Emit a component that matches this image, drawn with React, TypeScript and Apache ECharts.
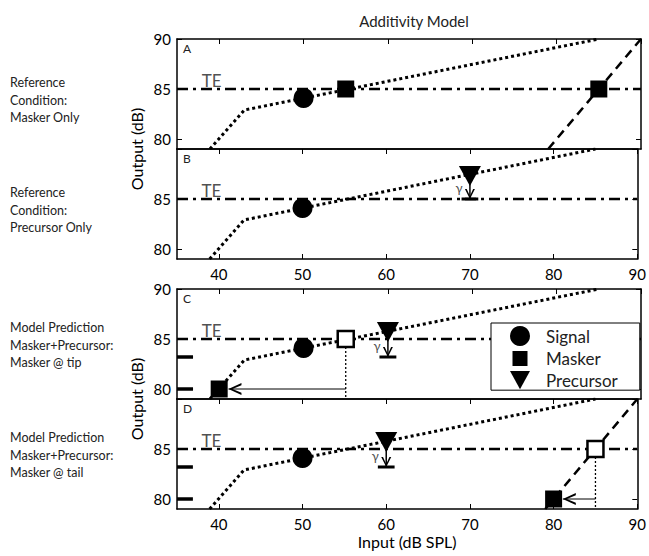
import React, { useEffect, useRef } from 'react';
import * as echarts from 'echarts';

// ---------- data ----------
const xMin = 35, xMax = 90, yMin = 79, yMax = 90;
const xTickValues = [40, 50, 60, 70, 80, 90];
const yTickValues = [80, 85, 90];
const yLabelValues = [[80, 85, 90], [80, 85], [80, 85, 90], [80, 85]];
const panelLetters = ['A', 'B', 'C', 'D'];
const rowLabels = [
  ['Reference', 'Condition:', 'Masker Only'],
  ['Reference', 'Condition:', 'Precursor Only'],
  ['Model Prediction', 'Masker+Precursor:', 'Masker @ tip'],
  ['Model Prediction', 'Masker+Precursor:', 'Masker @ tail'],
];
const ioCurve = [[38.9, 79], [43, 82.9], [85, 90]];
const maskerGrowth = [[79, 79], [90, 90]];
const teLine = [[35, 85], [90, 85]];
const teLabel = [39.1, 85.9];
const signalPoint = [50, 84.1];
const maskerA = [[55, 85], [85, 85]];
const precursorB = [70, 87.3];
const gammaShaftB = [[70, 87.3], [70, 85]];
const gammaBarB = [[69, 85], [71, 85]];
const gammaLabelB = [68.7, 86.1];
const precursorCD = [60, 85.7];
const gammaShaftCD = [[60, 85.7], [60, 83.2]];
const gammaBarCD = [[59, 83.2], [61, 83.2]];
const gammaLabelCD = [58.7, 84.3];
const thresholdMarks = [[[35, 83.2], [36.9, 83.2]], [[35, 80], [36.9, 80]]];
const predictedMaskerC = [55, 85];
const shiftedMaskerC = [40, 80];
const dropLineC = [[55, 84.2], [55, 79]];
const shiftArrowC = [[55, 80], [41.1, 80]];
const predictedMaskerD = [85, 85];
const shiftedMaskerD = [80, 80];
const dropLineD = [[85, 84.2], [85, 79]];
const shiftArrowD = [[85, 80], [81.1, 80]];

// ---------- style ----------
const FONT = 'Lato, "Open Sans", sans-serif';
const panelTops = [39, 149, 289, 399];
const PANEL_H = 110;
const TRI = 'path://M0,0 L22,0 L11,20 Z';
const LEFT_HEAD = 'path://M0,6 L13,0 L13,2.2 L4,6 L13,9.8 L13,12 Z';
const DOWN_HEAD = 'path://M5,10 L0,0 L1.8,0 L5,7 L8.2,0 L10,0 Z';
const LEGEND_SQUARE = 'path://M0,0 L0.01,0 L0,0.01 Z M20,20 L19.99,20 L20,19.99 Z M2.5,2.5 L17.5,2.5 L17.5,17.5 L2.5,17.5 Z';

function line(p: number, data: number[][], ls: any, z = 2): any {
  return {
    type: 'line', xAxisIndex: p, yAxisIndex: p, data, showSymbol: false, symbol: 'none',
    silent: true, z, lineStyle: { color: '#000', ...ls },
  };
}
function pts(p: number, name: string, data: number[][], symbol: string, size: any, itemStyle: any = {}, extra: any = {}): any {
  return {
    type: 'scatter', name, xAxisIndex: p, yAxisIndex: p, data, symbol, symbolSize: size,
    silent: true, z: 5, itemStyle: { color: '#000', opacity: 1, ...itemStyle }, ...extra,
  };
}
function txt(p: number, pos: number[], text: string, fontSize: number): any {
  return {
    type: 'scatter', xAxisIndex: p, yAxisIndex: p, data: [pos], symbolSize: 1, silent: true, z: 6,
    itemStyle: { color: 'rgba(0,0,0,0)' },
    label: { show: true, position: 'inside', formatter: text, fontSize, color: '#222', fontFamily: FONT },
  };
}

export default function App() {
  const ref = useRef<HTMLDivElement>(null);
  useEffect(() => {
    const chart = echarts.init(ref.current!, null, { renderer: 'svg' });
    const grids = panelTops.map((t) => ({ left: 177, right: 8, top: t, height: PANEL_H, containLabel: false }));
    const xAxes: any[] = [];
    const yAxes: any[] = [];
    for (let i = 0; i < 4; i++) {
      const showBottom = i === 1 || i === 3;
      xAxes.push({
        type: 'value', gridIndex: i, min: xMin, max: xMax, position: 'bottom',
        axisLine: { show: true, lineStyle: { color: '#000', width: 1.5 } },
        axisTick: { show: showBottom, inside: true, length: 5, customValues: xTickValues, lineStyle: { color: '#000', width: 1 } },
        axisLabel: { show: showBottom, customValues: xTickValues, fontSize: 15, color: '#000', fontFamily: FONT, margin: 7 },
        splitLine: { show: false },
        name: i === 3 ? 'Input (dB SPL)' : '', nameLocation: 'middle', nameGap: 24,
        nameTextStyle: { fontSize: 16, color: '#000', fontFamily: FONT },
      });
      yAxes.push({
        type: 'value', gridIndex: i, min: yMin, max: yMax, position: 'left',
        axisLine: { show: true, lineStyle: { color: '#000', width: 1.5 } },
        axisTick: { show: true, inside: true, length: 5, customValues: yTickValues, lineStyle: { color: '#000', width: 1 } },
        axisLabel: { show: true, customValues: yLabelValues[i], fontSize: 15, color: '#000', fontFamily: FONT, margin: 6 },
        splitLine: { show: false },
      });
    }
    for (let i = 0; i < 4; i++) {
      xAxes.push({
        type: 'value', gridIndex: i, min: xMin, max: xMax, position: 'top',
        axisLine: { show: true, lineStyle: { color: '#000', width: 1.5 } },
        axisTick: { show: true, inside: true, length: 5, customValues: xTickValues, lineStyle: { color: '#000', width: 1 } },
        axisLabel: { show: false }, splitLine: { show: false },
      });
      yAxes.push({
        type: 'value', gridIndex: i, min: yMin, max: yMax, position: 'right',
        axisLine: { show: true, lineStyle: { color: '#000', width: 1.5 } },
        axisTick: { show: true, inside: true, length: 5, customValues: yTickValues, lineStyle: { color: '#000', width: 1 } },
        axisLabel: { show: false }, splitLine: { show: false },
      });
    }

    const series: any[] = [];
    const dotted = { width: 3, type: [3, 3], cap: 'butt' };
    const dashed = { width: 2.5, type: [9, 6], cap: 'butt' };
    const dashDot = { width: 2.5, type: [11, 5, 3, 5], cap: 'butt' };
    for (let p = 0; p < 4; p++) {
      series.push(line(p, teLine, dashDot, 1));
      series.push(line(p, ioCurve, dotted, 2));
      series.push(txt(p, teLabel, 'TE', 17));
      series.push(pts(p, 'Signal', [signalPoint], 'circle', 20));
    }
    // A
    series.push(line(0, maskerGrowth, dashed, 2));
    series.push(pts(0, 'Masker', maskerA, 'rect', 17));
    // B
    series.push(line(1, gammaShaftB, { width: 1.5 }, 3));
    series.push(line(1, gammaBarB, { width: 3, cap: 'butt' }, 3));
    series.push(pts(1, 'Precursor', [precursorB], TRI, [22, 20]));
    series.push(pts(1, 'head', [gammaShaftB[1]], DOWN_HEAD, [10, 10], {}, { symbolOffset: [0, -5] }));
    series.push(txt(1, gammaLabelB, 'γ', 13));
    // C and D
    for (const p of [2, 3]) {
      series.push(line(p, gammaShaftCD, { width: 1.5 }, 3));
      series.push(line(p, gammaBarCD, { width: 3, cap: 'butt' }, 3));
      series.push(pts(p, 'Precursor', [precursorCD], TRI, [22, 20]));
      series.push(pts(p, 'head', [gammaShaftCD[1]], DOWN_HEAD, [10, 10], {}, { symbolOffset: [0, -5] }));
      series.push(txt(p, gammaLabelCD, 'γ', 13));
      for (const m of thresholdMarks) series.push(line(p, m, { width: 3.5, cap: 'butt' }, 3));
    }
    // C
    series.push(line(2, dropLineC, { width: 1.3, type: [2, 2] }, 3));
    series.push(line(2, shiftArrowC, { width: 1 }, 3));
    series.push(pts(2, 'head', [shiftArrowC[1]], LEFT_HEAD, [13, 12], {}, { symbolOffset: [6.5, 0] }));
    series.push(pts(2, 'Masker', [shiftedMaskerC], 'rect', 17));
    series.push(pts(2, 'Masker (predicted)', [predictedMaskerC], 'rect', 16, { color: '#fff', borderColor: '#000', borderWidth: 2.5 }));
    // D
    series.push(line(3, maskerGrowth, dashed, 2));
    series.push(line(3, dropLineD, { width: 1.3, type: [2, 2] }, 3));
    series.push(line(3, shiftArrowD, { width: 1 }, 3));
    series.push(pts(3, 'head', [shiftArrowD[1]], LEFT_HEAD, [13, 12], {}, { symbolOffset: [6.5, 0] }));
    series.push(pts(3, 'Masker', [shiftedMaskerD], 'rect', 17));
    series.push(pts(3, 'Masker (predicted)', [predictedMaskerD], 'rect', 16, { color: '#fff', borderColor: '#000', borderWidth: 2.5 }));

    const graphic: any[] = [];
    panelTops.forEach((t, i) => {
      graphic.push({ type: 'text', left: 183, top: t + 3, style: { text: panelLetters[i], fontSize: 12, fill: '#222', fontFamily: FONT } });
    });
    const rowTops = [74, 184, 319, 429];
    rowLabels.forEach((lines, i) => {
      graphic.push({
        type: 'text', left: 10, top: rowTops[i],
        style: { text: lines.join('\n'), fontSize: 12.5, lineHeight: 17.5, fill: '#222', fontFamily: FONT },
      });
    });
    [149, 399].forEach((cy) => {
      graphic.push({
        type: 'text', x: 136, y: cy, rotation: Math.PI / 2,
        style: { text: 'Output (dB)', fontSize: 16, fill: '#000', fontFamily: FONT, align: 'center', verticalAlign: 'middle' },
      });
    });

    chart.setOption({
      animation: false,
      backgroundColor: '#fff',
      title: {
        text: 'Additivity Model', left: 409, top: 8, textAlign: 'center',
        textStyle: { fontSize: 15, fontWeight: 'normal', color: '#222', fontFamily: FONT },
      },
      legend: {
        show: true, orient: 'vertical', left: 491, top: 323,
        data: [{ name: 'Signal' }, { name: 'Masker', icon: LEGEND_SQUARE }, { name: 'Precursor' }],
        itemWidth: 20, itemHeight: 20, itemGap: 2.5,
        padding: [3, 22, 1, 19],
        backgroundColor: '#fff', borderColor: '#000', borderWidth: 1, borderRadius: 0,
        textStyle: { fontSize: 17, color: '#222', fontFamily: FONT, padding: [0, 0, 0, 11] },
        selectedMode: false, z: 10,
      },
      grid: grids,
      xAxis: xAxes,
      yAxis: yAxes,
      series,
      graphic,
    });
    return () => chart.dispose();
  }, []);
  return <div ref={ref} style={{ position: 'fixed', left: 0, top: 0, width: 649, height: 556 }} />;
}
